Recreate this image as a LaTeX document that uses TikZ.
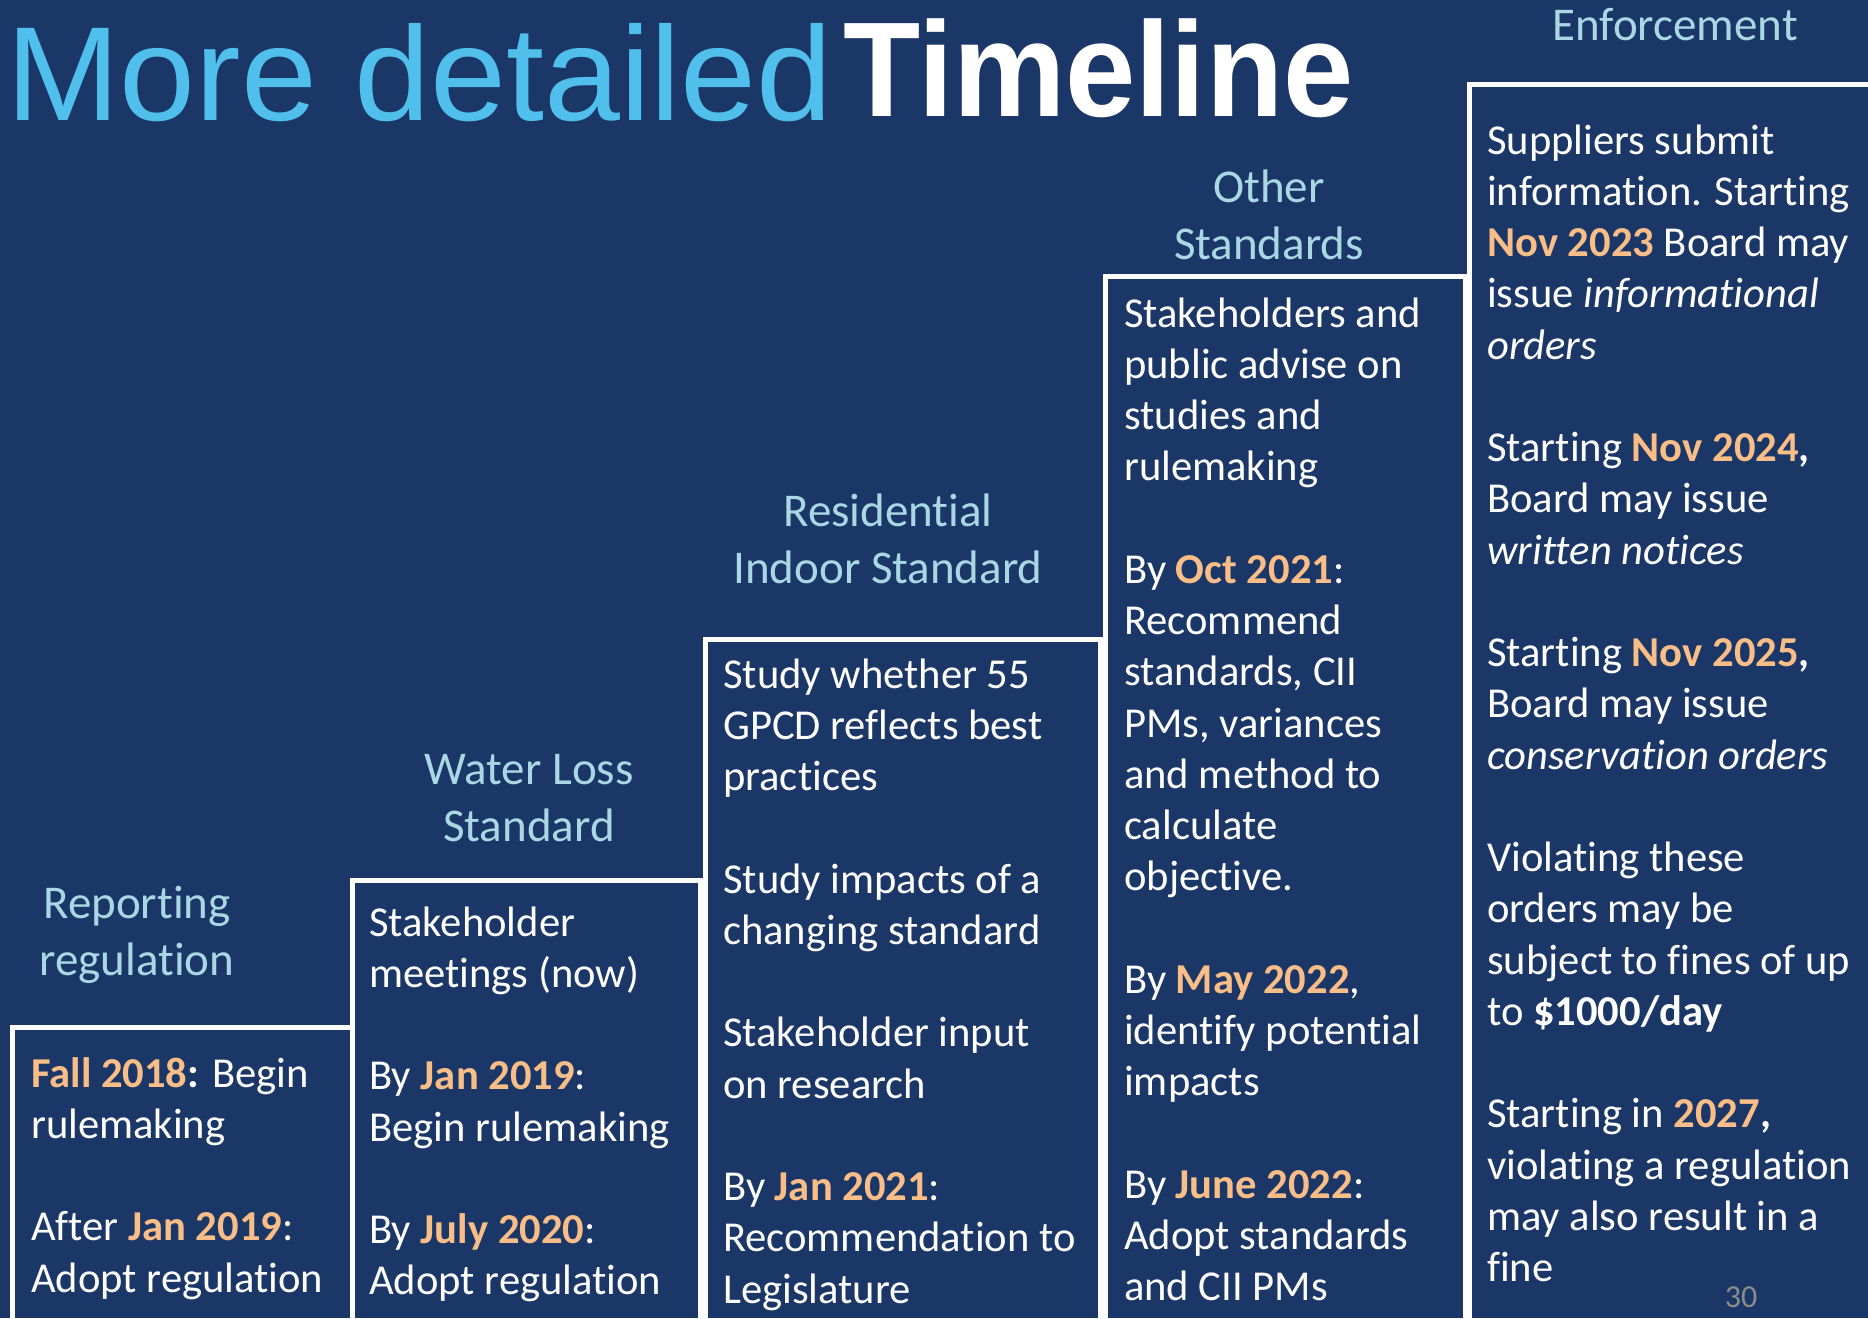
\documentclass[tikz,border=0pt]{standalone}
\usepackage{fontspec}
\setmainfont[Ligatures=NoCommon, Contextuals=NoAlternate, RawFeature=-liga]{Carlito}
\newfontfamily\arialfont{Liberation Sans}
\definecolor{bgnavy}{HTML}{1A3767}
\definecolor{titleblue}{HTML}{50BFEC}
\definecolor{lblblue}{HTML}{A9D8E4}
\definecolor{dateorange}{HTML}{F9BE88}
\definecolor{pagegray}{HTML}{8C8C8C}
\newcommand\dt[1]{\textbf{\textcolor{dateorange}{#1}}}
\newcommand\boxtext[1]{\fontsize{42.6}{51.25}\selectfont\begin{tabular}[t]{@{}l@{}}#1\end{tabular}}
\newcommand\lbltext[1]{\fontsize{47}{57}\selectfont\begin{tabular}[t]{@{}c@{}}#1\end{tabular}}
\tikzset{
  boxline/.style={draw=white, line width=5pt},
  bodytext/.style={anchor=base west, inner sep=0pt, text=white},
  lbl/.style={anchor=base, inner sep=0pt, text=lblblue}
}
\begin{document}
\begin{tikzpicture}[x=1pt,y=-1pt]
\fill[bgnavy] (0,0) rectangle (1868,1318);
\useasboundingbox (0,0) rectangle (1868,1318);
\clip (0,0) rectangle (1868,1318);

% step boxes
\draw[boxline] (12,1027) rectangle (352,1360);
\draw[boxline] (352,880) rectangle (700.5,1360);
\draw[boxline] (705.5,639.5) rectangle (1100.5,1360);
\draw[boxline] (1105.5,276.5) rectangle (1465,1360);
\draw[boxline] (1469.5,84.5) rectangle (1920,1360);

% title
\node[anchor=base west, inner sep=0pt, text=titleblue, xscale=1.018] (title1) at (6,120)
  {\arialfont\fontsize{134}{134}\selectfont More detailed};
\node[anchor=base west, inner sep=0pt, text=white, xscale=0.936] (title2) at (843,116)
  {\arialfont\bfseries\fontsize{135}{135}\selectfont Timeline};

% column labels
\node[lbl] (l1) at (137,918) {\lbltext{Reporting\\regulation}};
\node[lbl] (l2) at (529,784) {\lbltext{Water Loss\\Standard}};
\node[lbl] (l3) at (888,526) {\lbltext{Residential\\Indoor Standard}};
\node[lbl] (l4) at (1269,202) {\lbltext{Other\\Standards}};
\node[lbl] (l5) at (1675,40) {\lbltext{Enforcement}};

% box texts
\node[bodytext] (t1) at (31,1087) {\boxtext{%
\dt{Fall 2018}\textbf{:} Begin\\
rulemaking\\
\\
After \dt{Jan 2019}:\\
Adopt regulation}};

\node[bodytext] (t2) at (369,936) {\boxtext{%
Stakeholder\\
meetings (now)\\
\\
By \dt{Jan 2019}:\\
Begin rulemaking\\
\\
By \dt{July 2020}:\\
Adopt regulation}};

\node[bodytext] (t3) at (723,688) {\boxtext{%
Study whether 55\\
GPCD reflects best\\
practices\\
\\
Study impacts of a\\
changing standard\\
\\
Stakeholder input\\
on research\\
\\
By \dt{Jan 2021}:\\
Recommendation to\\
Legislature}};

\node[bodytext] (t4) at (1124,327) {\boxtext{%
Stakeholders and\\
public advise on\\
studies and\\
rulemaking\\
\\
By \dt{Oct 2021}:\\
Recommend\\
standards, CII\\
PMs, variances\\
and method to\\
calculate\\
objective.\\
\\
By \dt{May 2022},\\
identify potential\\
impacts\\
\\
By \dt{June 2022}:\\
Adopt standards\\
and CII PMs}};

\node[bodytext] (t5) at (1487,154) {\boxtext{%
Suppliers submit\\
information. Starting\\
\dt{Nov 2023} Board may\\
issue \textit{informational}\\
\textit{orders}\\
\\
Starting \dt{Nov 2024}\textbf{,}\\
Board may issue\\
\textit{written notices}\\
\\
Starting \dt{Nov 2025}\textbf{,}\\
Board may issue\\
\textit{conservation orders}\\
\\
Violating these\\
orders may be\\
subject to fines of up\\
to \textbf{\$1000/day}\\
\\
Starting in \dt{2027}\textbf{,}\\
violating a regulation\\
may also result in a\\
fine}};

% page number
\node[anchor=base, inner sep=0pt, text=pagegray] (pg) at (1741,1307)
  {\fontsize{32}{38}\selectfont 30};
\end{tikzpicture}
\end{document}
